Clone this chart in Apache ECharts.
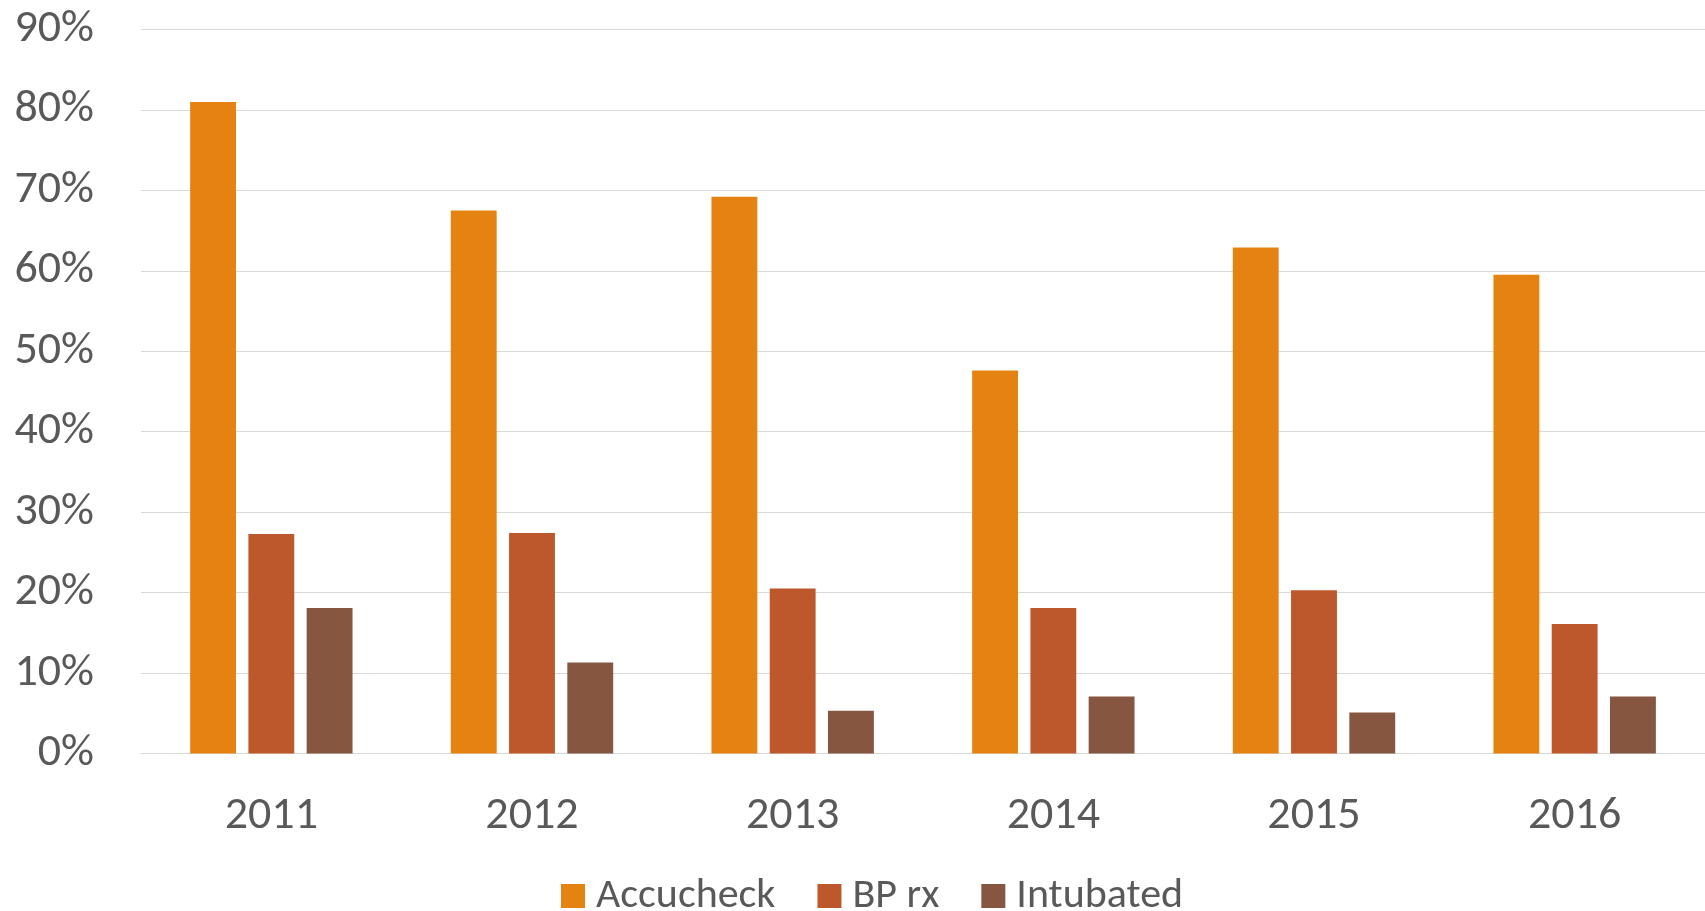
<!DOCTYPE html>
<html>
<head>
<meta charset="utf-8">
<script src="https://cdn.jsdelivr.net/npm/echarts@6/dist/echarts.min.js"></script>
<style>
html,body{margin:0;padding:0;background:#fff;}
#chart{width:1705px;height:911px;}
</style>
</head>
<body>
<div id="chart"></div>
<script>
const categories = ['2011', '2012', '2013', '2014', '2015', '2016'];
const accucheck = [81.0, 67.5, 69.2, 47.6, 62.9, 59.5];
const bpRx = [27.3, 27.4, 20.5, 18.1, 20.3, 16.1];
const intubated = [18.1, 11.3, 5.3, 7.1, 5.1, 7.1];
const seriesNames = ['Accucheck', 'BP rx', 'Intubated'];
const colors = ['#E48312', '#BD582C', '#865640'];

const FONT = "Calibri, Carlito, 'Open Sans', sans-serif";
const chart = echarts.init(document.getElementById('chart'));
chart.setOption({
  animation: false,
  color: colors,
  grid: { left: 141, right: 0, top: 29.5, bottom: 157.5, containLabel: false },
  legend: {
    data: seriesNames,
    left: 561,
    top: 875,
    itemWidth: 24,
    itemHeight: 24,
    itemGap: 42,
    icon: 'rect',
    textStyle: { fontFamily: FONT, fontSize: 42, color: '#595959', lineHeight: 24, padding: [0, 0, 0, 6] },
    padding: 0
  },
  xAxis: {
    type: 'category',
    data: categories,
    axisLine: { lineStyle: { color: '#D9D9D9', width: 1 } },
    axisTick: { show: false },
    axisLabel: { fontFamily: FONT, fontSize: 46, color: '#595959', margin: 40 }
  },
  yAxis: {
    type: 'value',
    min: 0,
    max: 90,
    interval: 10,
    axisLine: { show: false },
    axisTick: { show: false },
    splitLine: { lineStyle: { color: '#D9D9D9', width: 1 } },
    axisLabel: { fontFamily: FONT, fontSize: 46, color: '#595959', margin: 47, formatter: '{value}%' }
  },
  series: [
    { name: seriesNames[0], type: 'bar', data: accucheck, barWidth: '17.6%', barGap: '27%' },
    { name: seriesNames[1], type: 'bar', data: bpRx, barWidth: '17.6%', barGap: '27%' },
    { name: seriesNames[2], type: 'bar', data: intubated, barWidth: '17.6%', barGap: '27%' }
  ]
});
</script>
</body>
</html>
